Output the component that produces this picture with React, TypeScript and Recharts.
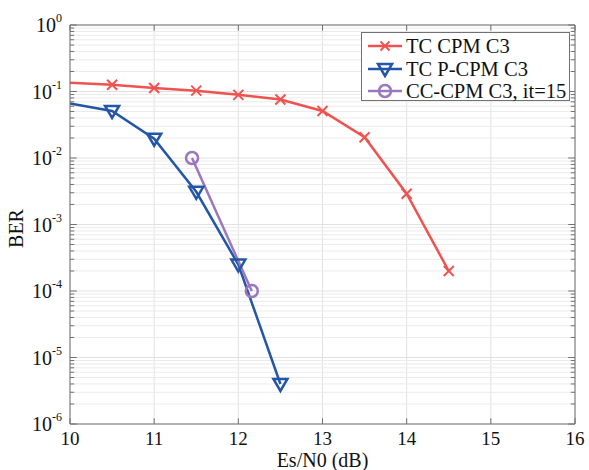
import React from 'react';
import { LineChart, Line, XAxis, YAxis, CartesianGrid, ReferenceLine, Legend, Label } from 'recharts';

const xTicks = [10, 11, 12, 13, 14, 15, 16];
const yTicks = [1e-6, 1e-5, 1e-4, 1e-3, 1e-2, 1e-1, 1];
const minorMantissas = [2, 3, 4, 5, 6, 7, 8, 9];

const tcCpmX = [10, 10.5, 11, 11.5, 12, 12.5, 13, 13.5, 14, 14.5];
const tcCpmBer = [0.135, 0.126, 0.113, 0.103, 0.089, 0.076, 0.051, 0.0205, 0.0029, 0.0002];

const tcPcpmX = [10, 10.5, 11, 11.5, 12, 12.5];
const tcPcpmBer = [0.066, 0.051, 0.0195, 0.0031, 0.00025, 0.000004];

const ccCpmX = [11.45, 12.16];
const ccCpmBer = [0.01, 0.0001];

const seriesNames = ['TC CPM C3', 'TC P-CPM C3', 'CC-CPM C3, it=15'];
const RED = '#EF5350';
const BLUE = '#2456A8';
const PURPLE = '#9B77BE';
const FONT = "'Liberation Serif', 'DejaVu Serif', serif";
const AXIS = '#707070';

const toData = (xs: number[], ys: number[]) => xs.map((x, i) => ({ x, y: ys[i] }));
const tcCpm = toData(tcCpmX, tcCpmBer);
const tcPcpm = toData(tcPcpmX, tcPcpmBer);
const ccCpm = toData(ccCpmX, ccCpmBer);

const minorValues: number[] = [];
yTicks.slice(0, -1).forEach((d) => minorMantissas.forEach((m) => minorValues.push(d * m)));

const CrossMark = ({ cx, cy, color, s = 5 }: any) => (
  <g>
    <line x1={cx - s} y1={cy - s} x2={cx + s} y2={cy + s} stroke={color} strokeWidth={2} />
    <line x1={cx - s} y1={cy + s} x2={cx + s} y2={cy - s} stroke={color} strokeWidth={2} />
  </g>
);
const TriMark = ({ cx, cy, color }: any) => (
  <polygon points={`${cx - 7},${cy - 5} ${cx + 7},${cy - 5} ${cx},${cy + 7}`} fill="none" stroke={color} strokeWidth={2.5} strokeLinejoin="miter" />
);
const CircMark = ({ cx, cy, color }: any) => (
  <circle cx={cx} cy={cy} r={6} fill="none" stroke={color} strokeWidth={2.5} />
);

const redDot = (p: any) => (p.index === 0 ? <g key={p.index} /> : <CrossMark key={p.index} cx={p.cx} cy={p.cy} color={RED} />);
const blueDot = (p: any) => (p.index === 0 ? <g key={p.index} /> : <TriMark key={p.index} cx={p.cx} cy={p.cy} color={BLUE} />);
const purpleDot = (p: any) => <CircMark key={p.index} cx={p.cx} cy={p.cy} color={PURPLE} />;

const YTick = (props: any) => {
  const { y, payload } = props;
  const exp = Math.round(Math.log10(payload.value));
  return (
    <text x={62} y={y} textAnchor="end" style={{ fontFamily: FONT }} fontSize={20} fill="#111">
      <tspan dy="0.35em">10</tspan>
      <tspan dy={-10} fontSize={12}>{exp}</tspan>
    </text>
  );
};

const XTick = (props: any) => {
  const { x, payload } = props;
  return (
    <text x={x} y={438} textAnchor="middle" dy="0.35em" style={{ fontFamily: FONT }} fontSize={19} fill="#111">
      {payload.value}
    </text>
  );
};

const legendItems = [
  { name: seriesNames[0], color: RED, kind: 'x' },
  { name: seriesNames[1], color: BLUE, kind: 'v' },
  { name: seriesNames[2], color: PURPLE, kind: 'o' },
];

const LegendBox = () => (
  <div style={{ border: `1px solid ${AXIS}`, background: '#fff', width: 207, height: 65, boxSizing: 'content-box', paddingTop: 2 }}>
    {legendItems.map((it) => (
      <div key={it.name} style={{ display: 'flex', alignItems: 'center', height: 22.5 }}>
        <svg width={44} height={20} style={{ flex: 'none' }}>
          <line x1={6} y1={10} x2={40} y2={10} stroke={it.color} strokeWidth={2.5} />
          {it.kind === 'x' && <CrossMark cx={23} cy={10} color={it.color} s={4.5} />}
          {it.kind === 'v' && <TriMark cx={23} cy={10} color={it.color} />}
          {it.kind === 'o' && <CircMark cx={23} cy={10} color={it.color} />}
        </svg>
        <span style={{ fontFamily: FONT, fontSize: 20.5, color: '#111', whiteSpace: 'nowrap', lineHeight: '20px' }}>{it.name}</span>
      </div>
    ))}
  </div>
);

export default function App() {
  return (
    <div style={{ position: 'absolute', left: 0, top: 0, width: 589, height: 470, background: '#fff' }}>
      <LineChart width={589} height={470} margin={{ top: 25, right: 14, bottom: 16, left: 0 }}>
        <CartesianGrid stroke="#e2e2e2" strokeWidth={1} />
        <XAxis
          dataKey="x"
          type="number"
          domain={[10, 16]}
          ticks={xTicks}
          allowDataOverflow
          height={30}
          tickSize={0}
          tickLine={false}
          axisLine={{ stroke: AXIS }}
          tick={<XTick />}
        >
          <Label
            content={({ viewBox }: any) => (
              <text x={viewBox.x + viewBox.width / 2} y={467} textAnchor="middle" style={{ fontFamily: FONT }} fontSize={20} fill="#111">
                Es/N0 (dB)
              </text>
            )}
          />
        </XAxis>
        <YAxis
          dataKey="y"
          type="number"
          scale="log"
          domain={[1e-6, 1]}
          ticks={yTicks}
          allowDataOverflow
          width={70}
          tickSize={0}
          tickLine={false}
          axisLine={{ stroke: AXIS }}
          tick={<YTick />}
        >
          <Label
            content={({ viewBox }: any) => {
              const cy = viewBox.y + viewBox.height / 2 + 4;
              return (
                <text x={16} y={cy} transform={`rotate(-90 16 ${cy})`} textAnchor="middle" dominantBaseline="central" style={{ fontFamily: FONT }} fontSize={20} fill="#111">
                  BER
                </text>
              );
            }}
          />
        </YAxis>
        {minorValues.map((v) => (
          <ReferenceLine key={`mg${v}`} y={v} stroke="#ebebeb" strokeWidth={1} ifOverflow="visible" />
        ))}
        {minorValues.map((v) => (
          <ReferenceLine key={`ml${v}`} segment={[{ x: 10, y: v }, { x: 10.05, y: v }]} stroke={AXIS} ifOverflow="visible" />
        ))}
        {minorValues.map((v) => (
          <ReferenceLine key={`mr${v}`} segment={[{ x: 15.95, y: v }, { x: 16, y: v }]} stroke={AXIS} ifOverflow="visible" />
        ))}
        {yTicks.map((v) => (
          <ReferenceLine key={`yl${v}`} segment={[{ x: 10, y: v }, { x: 10.08, y: v }]} stroke={AXIS} ifOverflow="visible" />
        ))}
        {yTicks.map((v) => (
          <ReferenceLine key={`yr${v}`} segment={[{ x: 15.92, y: v }, { x: 16, y: v }]} stroke={AXIS} ifOverflow="visible" />
        ))}
        {xTicks.map((v) => (
          <ReferenceLine key={`xb${v}`} segment={[{ x: v, y: 1e-6 }, { x: v, y: 1.22e-6 }]} stroke={AXIS} ifOverflow="visible" />
        ))}
        {xTicks.map((v) => (
          <ReferenceLine key={`xt${v}`} segment={[{ x: v, y: 0.82 }, { x: v, y: 1 }]} stroke={AXIS} ifOverflow="visible" />
        ))}
        <ReferenceLine y={1} stroke={AXIS} ifOverflow="visible" />
        <ReferenceLine x={16} stroke={AXIS} ifOverflow="visible" />
        <Line data={tcCpm} dataKey="y" name={seriesNames[0]} stroke={RED} strokeWidth={2.5} dot={redDot} isAnimationActive={false} />
        <Line data={tcPcpm} dataKey="y" name={seriesNames[1]} stroke={BLUE} strokeWidth={2.5} dot={blueDot} isAnimationActive={false} />
        <Line data={ccCpm} dataKey="y" name={seriesNames[2]} stroke={PURPLE} strokeWidth={2.5} dot={purpleDot} isAnimationActive={false} />
        <Legend
          layout="vertical"
          align="center"
          verticalAlign="middle"
          content={<LegendBox />}
          wrapperStyle={{ position: 'absolute', left: 361, top: 32, width: 'auto', height: 'auto' }}
        />
      </LineChart>
    </div>
  );
}
